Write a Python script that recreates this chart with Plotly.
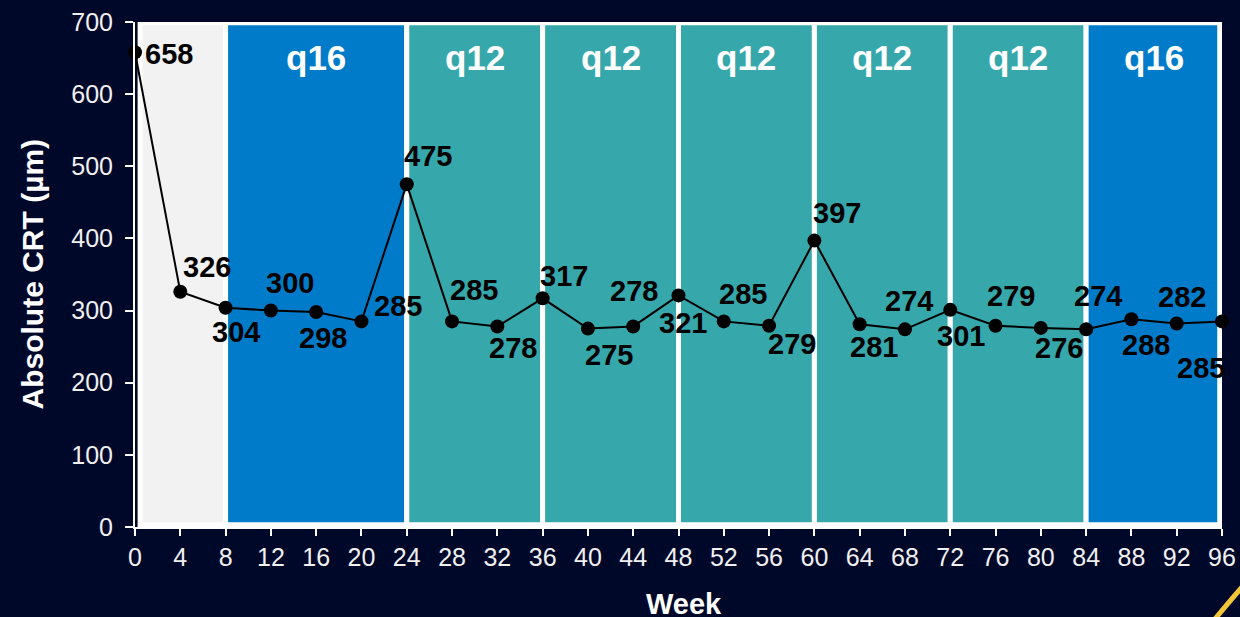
import plotly.graph_objects as go

# Central retinal thickness by study week
weeks = [0, 4, 8, 12, 16, 20, 24, 28, 32, 36, 40, 44, 48, 52, 56, 60, 64, 68, 72, 76, 80, 84, 88, 92, 96]
crt = [658, 326, 304, 300, 298, 285, 475, 285, 278, 317, 275, 278, 321, 285, 279, 397,
       281, 274, 301, 279, 276, 274, 288, 282, 285]

# Dosing-interval periods
period_start = [0, 8, 24, 36, 48, 60, 72, 84]
period_end = [8, 24, 36, 48, 60, 72, 84, 96]
period_label = ["", "q16", "q12", "q12", "q12", "q12", "q12", "q16"]

x_ticks = list(range(0, 97, 4))
y_ticks = [0, 100, 200, 300, 400, 500, 600, 700]

# Styling
BG = "#00082a"
FONT = "Liberation Sans, Arial, sans-serif"
period_color = {"": "#f2f2f2", "q16": "#007bc9", "q12": "#36a7aa"}
# pixel offsets of each value label from its point
label_dx = [34, 27, 10, 19, 7, 37, 21, 22, 16, 21, 21, 1, 4, 19, 23, 23, 14, 4, 11, 15, 18, 12, 15, 5, -21]
label_dy = [-2, 25, -24, 28, -26, 15, 28, 31, -22, 22, -26, 35, -28, 27, -18, 28, -23, 28, -26, 30, -20, 33, -26, 27, -47]

fig = go.Figure()

shapes = []
annotations = []
for i, (s, e, lab) in enumerate(zip(period_start, period_end, period_label)):
    x0 = s + 0.45 if i == 0 else s
    x1 = e - 0.2 if i == len(period_start) - 1 else e
    shapes.append(dict(type="rect", xref="x", yref="y", x0=x0, x1=x1, y0=3, y1=699,
                       fillcolor=period_color[lab], line=dict(color="white", width=5),
                       layer="below"))
    if lab:
        annotations.append(dict(x=(s + e) / 2, y=651, xref="x", yref="y", text=lab,
                                showarrow=False, xanchor="center", yanchor="middle",
                                font=dict(family=FONT, size=35, color="white", weight="bold")))

# decorative accent in the lower-right corner
shapes.append(dict(type="path", xref="paper", yref="paper",
                   path="M 0.9905,-0.19 Q 1.004,-0.155 1.022,-0.11",
                   line=dict(color="#f2c438", width=5)))

fig.add_trace(go.Scatter(
    x=weeks, y=crt, mode="lines+markers",
    line=dict(color="black", width=2),
    marker=dict(color="black", size=14),
    cliponaxis=False, hoverinfo="skip", showlegend=False,
))

for w, v, dx, dy in zip(weeks, crt, label_dx, label_dy):
    annotations.append(dict(x=w, y=v, xref="x", yref="y", text=str(v), showarrow=False,
                            xanchor="center", yanchor="middle", xshift=dx, yshift=dy,
                            font=dict(family=FONT, size=29, color="black", weight="bold")))

annotations.append(dict(x=0, y=0.5, xref="paper", yref="paper", text="Absolute CRT (µm)",
                        textangle=-90, showarrow=False, xanchor="center", yanchor="middle",
                        xshift=-103, font=dict(family=FONT, size=30, color="white", weight="bold")))
annotations.append(dict(x=0.5, y=0, xref="paper", yref="paper", text="Week",
                        showarrow=False, xanchor="center", yanchor="middle",
                        xshift=5, yshift=-77, font=dict(family=FONT, size=29, color="white", weight="bold")))

fig.update_layout(
    width=1240, height=617,
    paper_bgcolor=BG, plot_bgcolor=BG,
    margin=dict(l=135, r=18, t=22, b=90, autoexpand=False),
    shapes=shapes, annotations=annotations,
    xaxis=dict(range=[0, 96], tickvals=x_ticks, ticktext=[str(t) for t in x_ticks],
               automargin=False,
               showgrid=False, zeroline=False, showline=True, linecolor="white", linewidth=2,
               ticks="outside", ticklen=7, tickwidth=2, tickcolor="white",
               tickfont=dict(family=FONT, size=25, color="#f0f0f0")),
    yaxis=dict(range=[0, 700], tickvals=y_ticks, showgrid=False, zeroline=False,
               automargin=False, ticklabelstandoff=7,
               showline=True, linecolor="white", linewidth=2,
               ticks="outside", ticklen=8, tickwidth=2, tickcolor="white",
               tickfont=dict(family=FONT, size=25, color="#f0f0f0")),
)

fig.write_html("out.html")
